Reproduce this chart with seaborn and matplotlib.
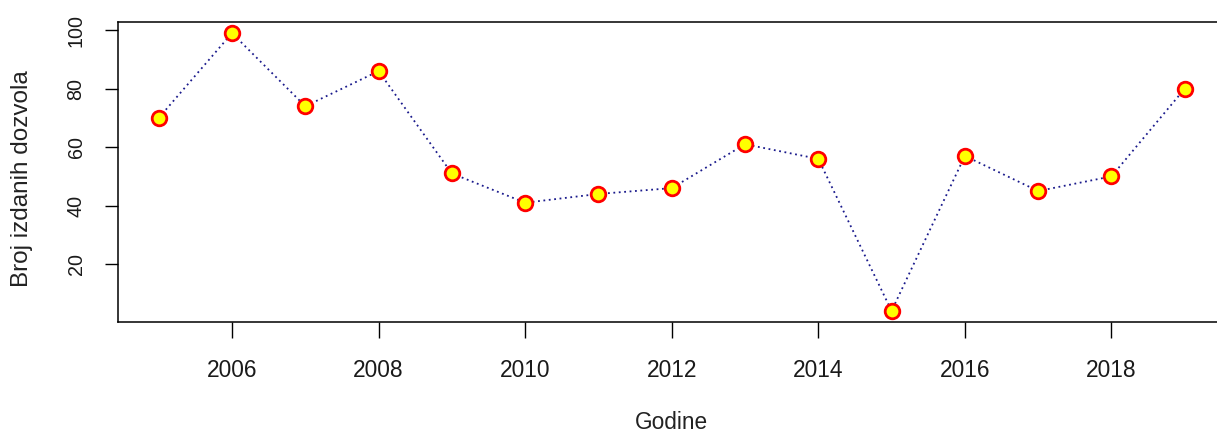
import matplotlib
matplotlib.use("Agg")
import matplotlib.pyplot as plt
import seaborn as sns
import pandas as pd

years = [2005, 2006, 2007, 2008, 2009, 2010, 2011, 2012, 2013, 2014, 2015, 2016, 2017, 2018, 2019]
permits = [70, 99, 74, 86, 51, 41, 44, 46, 61, 56, 4, 57, 45, 50, 80]
x_ticks = [2006, 2008, 2010, 2012, 2014, 2016, 2018]
y_ticks = [20, 40, 60, 80, 100]

sns.set_style("ticks")
plt.rcParams["font.family"] = ["Liberation Sans", "DejaVu Sans"]

df = pd.DataFrame({"Godine": years, "Dozvole": permits})

fig = plt.figure(figsize=(12.17, 4.32), dpi=100)
# the right part of the frame runs past the canvas edge
ax = fig.add_axes([0.0967, 0.2546, 0.9105, 0.6944])

sns.lineplot(data=df, x="Godine", y="Dozvole", ax=ax,
             color="#1a1a8c", linestyle=(0, (1, 2)), linewidth=1.3,
             marker="o", markersize=10.5, markerfacecolor="#ffff00",
             markeredgecolor="#ff0000", markeredgewidth=2.0)

# 4% padding around the data range on both axes
def padded(lo, hi, frac=0.04):
    r = hi - lo
    return lo - frac * r, hi + frac * r

ax.set_xlim(*padded(min(years), max(years)))
ax.set_ylim(*padded(min(permits), max(permits)))

ax.set_xticks(x_ticks)
ax.set_xticklabels([str(t) for t in x_ticks])
ax.set_yticks(y_ticks)
ax.set_yticklabels([str(t) for t in y_ticks], rotation=90, va="center")

ax.tick_params(axis="x", length=11.2, width=1.0, pad=15.5, labelsize=16.4, colors="black")
ax.tick_params(axis="y", length=9.6, width=1.0, pad=13.5, labelsize=14.2, colors="black")
for lab in ax.get_xticklabels() + ax.get_yticklabels():
    lab.set_color("#1a1a1a")

for s in ax.spines.values():
    s.set_visible(True)
    s.set_linewidth(1.1)
    s.set_color("black")

ax.set_xlabel("Godine", fontsize=16.3, color="#222222")
ax.set_ylabel("Broj izdanih dozvola", fontsize=17.5, color="#222222")
ax.xaxis.set_label_coords(0.5, -0.298)
ax.yaxis.set_label_coords(-0.0765, 0.477)

fig.savefig("out.png", dpi=100, facecolor="white")
